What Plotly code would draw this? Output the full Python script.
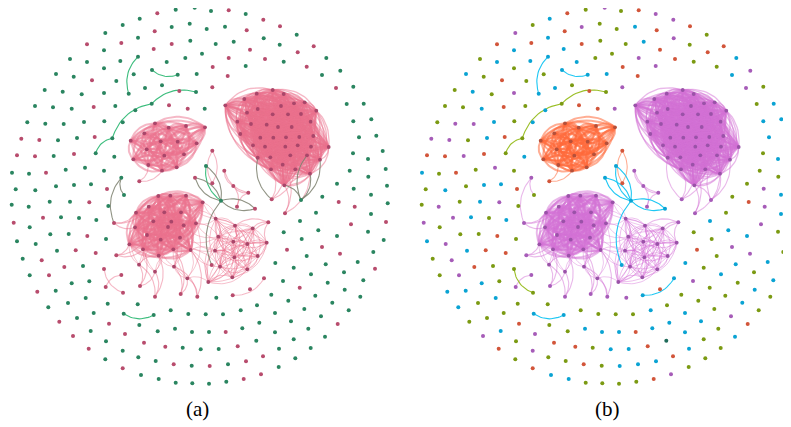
import numpy as np
import plotly.graph_objects as go

# all positions in pixels; panel (b) uses the same layout shifted right
PANEL_B_DX = 410
PAGE_MARGIN = 8  # default body margin of the html page

# ---- isolated / loosely linked nodes around the ring ----
per_x = [194.7, 175.7, 211, 228.7, 157.3, 245.7, 139.7, 263.3, 122.7, 189.7,
         171.7, 206.7, 225, 280, 154.7, 246.7, 105.3, 296.7, 138, 263.7,
         190.3, 233.7, 87, 121.3, 171.7, 215.7, 279.7, 313.7, 153.7, 250,
         104, 202, 297.7, 70, 138, 185.3, 228.7, 265, 326.3, 87,
         120.3, 166.7, 283.7, 212.7, 245.7, 306.7, 104, 152, 177.7, 340.3,
         56, 73.7, 133.7, 196.7, 227.7, 322, 92, 116.3, 162, 145,
         212.3, 336, 353.3, 44.7, 62.7, 81.7, 104, 128.7, 179.3, 196,
         35, 53, 71.7, 93.7, 115.3, 135.3, 151.7, 169, 187.7, 204.7,
         346.7, 363.7, 27.3, 45.3, 63.7, 84, 104.3, 122.7, 353.3, 371.3,
         21.3, 39.3, 58, 77, 94.7, 112.3, 359, 376.3, 17, 35,
         53.7, 74, 95.7, 114.3, 353, 368, 382.7, 12, 29, 46,
         65.7, 85, 104, 121.3, 349.7, 368.3, 385.7, 15.7, 35.3, 56,
         74, 91, 107, 124, 337, 353.7, 371, 387, 322.3, 11.7,
         28.7, 49.7, 70, 89.3, 108.3, 338.7, 354.7, 387.7, 13.7, 29.7,
         43, 61, 79, 96.3, 114, 17, 35.7, 50.3, 68.7, 87.3,
         106, 22.7, 41.7, 57, 75.7, 95.7, 116.3, 29.7, 49, 64.3,
         83, 104, 121.3, 37.3, 55.7, 71.7, 89.3, 105.7, 123, 48.3,
         68, 85.7, 107.7, 137.7, 59.3, 77, 93.7, 109, 123.7, 153.7,
         73, 90.7, 106, 125, 139.3, 88.7, 105.3, 122.7, 144, 157.7,
         170.7, 122.7, 138.3, 155.7, 141, 158.7, 173.7, 165.3, 175.7, 192.3,
         209, 226.3, 243.7, 261, 278.7, 295.3, 310.7, 325, 337.7, 348.7,
         360.3, 363.3, 375, 373.3, 383.7, 368, 386, 371, 351, 337,
         322, 340, 357.7, 316, 318.3, 301.7, 300, 283.7, 287, 306.7,
         325.7, 344, 275.3, 293.7, 311, 327.7, 344.7, 283, 299.7, 315.3,
         332.3, 271.3, 288.3, 304.3, 321, 257, 275, 291, 308.3, 240.7,
         259.3, 275, 293.7, 223, 242.3, 256.3, 279, 205.7, 225.7, 237.7,
         263, 188.3, 209, 218.7, 246, 175, 192, 182.7, 200.7, 228,
         191.7, 209.7, 216.3, 232.7, 250, 264, 268.3]
per_y = [7.7, 9.7, 11, 10.3, 13.3, 14, 18.7, 19.7, 25, 23.7,
         27, 29, 26.7, 26.3, 31.3, 30.3, 33, 34.7, 37.7, 38.3,
         40.7, 41.7, 44.3, 43, 44, 44, 44.7, 46.3, 49, 49.7,
         50.3, 53.7, 52.3, 59, 56.7, 58, 58, 59, 58, 62,
         61, 62, 61.7, 67, 66, 66.7, 68.3, 70, 74.7, 70.7,
         74, 76.7, 74.3, 74, 76, 75, 80.3, 81, 85.3, 88,
         87.3, 88, 86.7, 90, 91.7, 94.3, 93, 93.7, 91, 92,
         106, 107.3, 108.7, 107, 106, 110.3, 103.7, 105.3, 108.7, 108.7,
         104, 103.7, 122.3, 123.7, 124, 122, 121.3, 122.3, 121.3, 119.3,
         138.7, 140, 140.3, 138, 137, 138.3, 137.3, 135.7, 155.3, 156.3,
         156, 154, 153.3, 156.7, 153.3, 159, 151, 172.7, 173.7, 172.7,
         169.7, 167.7, 170.7, 177.7, 170.7, 176.7, 169, 189.3, 190.3, 186.3,
         185, 184.3, 189, 195, 183.7, 188.7, 194.7, 185.7, 196.7, 204.7,
         206.7, 201.7, 201.7, 202.3, 206, 202, 206.7, 203.3, 222.7, 227.3,
         217.7, 217.3, 218, 220, 223, 241.3, 244, 234.3, 234, 236,
         239, 258.7, 260.3, 250.7, 250.3, 253, 255.3, 275.3, 275.3, 267,
         266, 269, 275, 291.7, 290.7, 283.3, 281.3, 287, 292.7, 307.3,
         303, 298, 303.7, 304.3, 321.7, 318, 313, 323.7, 313.7, 315,
         336, 331, 341.3, 334, 325, 348.7, 359.3, 350.7, 342.7, 331.3,
         310.3, 368.3, 357.3, 361, 375, 379, 364.3, 346.7, 382.7, 383.3,
         383.7, 381.7, 379, 374.3, 367, 358.3, 348, 336.7, 324, 310.3,
         296.7, 280.3, 268.7, 252, 240, 231.7, 222, 214, 224.3, 236,
         247, 253.7, 262, 212.7, 230.3, 239, 221, 232.3, 249.7, 256,
         264.3, 272.3, 263, 267.7, 274.3, 282.7, 289.7, 281, 287.7, 295.7,
         302.7, 294.7, 300.7, 309, 316.3, 305.3, 313, 321.3, 328.7, 310.3,
         322.7, 332.3, 339.3, 314.3, 328.3, 340.7, 348.7, 314.3, 332, 346.3,
         356.3, 314, 332, 349, 361.3, 328.7, 332, 347.7, 349.3, 364.3,
         365.7, 366, 297.7, 295.3, 289.3, 278.3, 222.3]
# community of each ring node: panel (a) g = green, r = red
per_com_a = ("g g g r r g g r g g  g g g r r r g g g g  g g r r r g g r r r  g g r g g g r r g g "
             "g g g r g r g g g g  g g g g r g r g g g  r r g g g g g g r g  g g g r g g g r r g "
             "g g g g g g g g g g  r r g g r g g g r r  g r g g g g g g g r  g g g g g g g g g g "
             "g g r g g g g g g g  g g g r g r r g r g  r g g g r g g g g r  g g r g r r r g r r "
             "g r r r g g g r r g  g g g g r g g r g g  r g g r g r g g r g  g r g g g g r r g g "
             "g g r r g g g g r g  g g r g g g r g r g  r r g g g g g g r g  g g g g g g g g r g "
             "g g g g g g g g g g  g g g g g g g g r r  r g g g r g g g g g  g r g r r r r").split()
# panel (b) p = purple, o = olive, c = cyan, r = red, t = teal
per_com_b = ("p o o r r p c p o o  p o c r r r p o c p  o c r r r o o r c r  c o r o c o p r c c "
             "c c o r p o o c c p  c o o c r c r o o c  p p o o c o p c r o  o o c r o c o r r p "
             "o c o p p c o c c c  p p o c r o c c r r  p r o c o c c c o r  o p o p o o c o c o "
             "c c r o o p c o o o  p o c p o r p o p o  p c o c p c p o o r  o o p c r r p o p r "
             "o o p c c c o p o c  o c o o o o o r c c  p c o p o r o p r o  o r o o c c r r o o "
             "o o r p o o o c r o  o c r o c o p c p c  p p c o c o c o r o  c o c o c o c p o o "
             "c o o o p o c c o c  c c o o c t c o r r  r o c c c c c o c c  o c p c r c p").split()

# ---- small hub / bridge nodes in the middle ----
ext_x = [221, 206, 212.3, 212.3, 224.3, 195, 233.3, 248.3, 255, 237,
         211.7, 139.3, 180.7, 197.3, 155, 140, 271.7, 285, 301]
ext_y = [200.7, 166, 150.7, 183.3, 170.7, 177.7, 186, 192.7, 208.7, 206.7,
         265, 181.3, 294, 296.7, 296.7, 286, 199.3, 213.3, 200]
ext_com_a = "g g r r r r r r r r  r r r r r r r r g".split()
ext_com_b = "c c r r p c p p c p  c r p p p p p p p".split()

# ---- dense communities ----
ca_x = [155, 144.3, 130.7, 168.7, 186, 205, 160.7, 177.7, 196.7, 146.7, 164.3, 184, 133.3, 148.3, 162, 176.7]
ca_y = [123.3, 133.3, 140.7, 127.7, 126, 127.3, 141.3, 141.7, 143.3, 149.3, 155.7, 154.3, 159.3, 165, 170.7, 167.3]

cb_x = [244.3, 256.7, 272.7, 283.7, 225.3, 257.7, 281, 294, 304.7, 316.3,
        247, 272.7, 288, 301, 237.3, 251, 266.7, 278, 291.7, 310.7,
        240.3, 260.3, 273.3, 286, 299.3, 313.3, 253, 265, 285.3, 297.7,
        311, 328.7, 257.7, 270.3, 290.3, 307, 320, 282.7, 271, 295.3,
        310, 284.3]
cb_y = [99, 93.7, 90, 94, 105.3, 109, 106, 103.3, 102.3, 110.7,
        112.7, 114.3, 114.3, 114, 121.7, 124, 124.7, 127, 127, 121.7,
        134, 137.7, 137.7, 137.3, 137, 136, 145.3, 146.7, 146.7, 145.3,
        146.7, 147, 157.7, 157.3, 155.3, 155.3, 159.7, 164.7, 169.3, 169.3,
        173.7, 185.3]

cc_x = [158.3, 170.3, 186, 148.7, 164.3, 181, 136, 153.3, 171.3, 183.7,
        135, 168, 196, 147, 160.7, 180, 129.3, 143, 158.7, 173.3,
        190.7, 139, 155, 174, 187.3, 202.7]
cc_y = [196, 195.7, 195.7, 206.7, 212.3, 212.3, 212.7, 221.3, 221.7, 225.3,
        227.3, 227, 223.3, 235, 239.7, 237.7, 244.3, 249.3, 255.7, 249.3,
        250, 264.7, 271.7, 266.7, 278.3, 202.3]
cc_core = [0, 1, 2, 3, 4, 5, 6, 7, 8, 9, 10, 11, 12, 13, 14, 15, 16, 17, 18, 19, 20, 25]

cd_x = [215.7, 235, 252.7, 218.3, 233.3, 247.3, 266.7, 215, 234.3, 257.7, 220, 232.3, 247.3, 208.3]
cd_y = [218.7, 225.7, 228.3, 236.7, 241.7, 244, 242.7, 250.7, 257.3, 256, 266.7, 277.3, 269.3, 282]

# ---- sparse edges: (from, to, style in a, style in b) ----
sparse_edges = [
    ("p34", "p67", "gn", "cy"), ("p47", "p48", "gn", "cy"),
    ("p69", "p76", "gn", "ol"), ("p76", "p95", "gn", "ol"), ("p95", "p102", "gn", "ol"),
    ("p178", "p179", "gn", "cy"), ("p161", "p168", "pk", "ol"), ("p162", "p167", "pk", "pu"),
    ("p273", "p275", "pk", "cy"), ("p113", "p123", "gy", "pu"), ("p113", "p144", "gy", "pu"),
    ("p144", "C6", "pk", "pu"), ("p144", "C10", "pk", "pu"), ("p144", "C3", "pk", "pu"),
    ("p156", "C16", "pk", "pu"), ("p156", "C17", "pk", "pu"), ("p156", "C13", "pk", "pu"),
    ("p276", "D2", "pk", "pu"), ("p276", "D1", "pk", "pu"), ("p276", "D6", "pk", "pu"), ("p276", "D5", "pk", "pu"),
    ("x2", "x3", "pk", "or"), ("x3", "x2", "pk", "or"),
    ("x1", "x0", "gn", "cy"), ("x0", "x1", "gy", "cy"),
    ("x5", "x0", "gy", "cy"), ("x0", "x5", "gy", "cy"),
    ("x0", "x8", "gy", "cy"), ("x8", "x0", "gy", "cy"), ("x0", "x10", "gy", "cy"),
    ("x4", "x6", "pk", "pu"), ("x6", "x7", "pk", "pu"), ("x4", "x7", "pk", "pu"),
    ("x7", "x9", "pk", "pu"), ("x9", "x6", "pk", "pu"),
    ("x11", "A13", "pk", "or"), ("x11", "A14", "pk", "or"),
    ("x12", "C23", "pk", "pu"), ("x12", "C24", "pk", "pu"), ("x12", "C19", "pk", "pu"),
    ("x13", "C24", "pk", "pu"), ("x13", "C20", "pk", "pu"), ("x13", "C23", "pk", "pu"),
    ("x14", "C22", "pk", "pu"), ("x14", "C21", "pk", "pu"), ("x14", "C18", "pk", "pu"),
    ("x15", "C21", "pk", "pu"), ("x15", "C17", "pk", "pu"), ("x15", "C22", "pk", "pu"),
    ("x16", "B38", "pk", "pu"), ("x16", "B39", "pk", "pu"), ("x16", "B37", "pk", "pu"),
    ("x17", "B41", "pk", "pu"), ("x17", "B40", "pk", "pu"), ("x17", "B37", "pk", "pu"),
    ("x18", "B40", "gy", "pu"), ("x18", "B36", "gy", "pu"), ("x18", "B41", "gy", "pu"),
    ("B35", "x18", "gy", "pu"), ("B32", "x16", "gy", "pu"),
]
# lower part of community C is only loosely tied to its core
cc_low_edges = [(21, 16), (21, 17), (21, 13), (21, 18), (21, 10), (21, 14),
                (22, 17), (22, 18), (22, 14), (22, 19), (22, 13),
                (23, 18), (23, 19), (23, 15), (23, 20), (23, 14), (23, 11),
                (24, 19), (24, 20), (24, 15), (24, 23), (24, 12)]
# links between communities C and D
cd_cross = [(2, 0), (5, 0), (12, 0), (12, 3), (9, 3), (15, 7), (20, 7), (20, 10),
            (25, 0), (25, 1), (12, 4), (19, 10), (24, 13), (20, 13), (15, 3), (9, 7)]

EDGE_COL = {'pk': 'rgba(236,114,142,0.5)', 'gn': 'rgba(50,185,118,0.95)',
            'gy': 'rgba(125,128,110,0.85)', 'pu': 'rgba(212,114,214,0.5)',
            'or': 'rgba(255,106,58,0.55)', 'cy': 'rgba(18,196,242,0.95)',
            'ol': 'rgba(150,188,28,0.95)'}
NODE_COL_A = {'g': '#2a8560', 'r': '#b84c6d'}
NODE_COL_B = {'p': '#a65cb8', 'o': '#7b9a12', 'c': '#0aa3d3', 'r': '#d2553a', 't': '#1f6b5a'}

groups = {'p': (per_x, per_y), 'x': (ext_x, ext_y), 'A': (ca_x, ca_y),
          'B': (cb_x, cb_y), 'C': (cc_x, cc_y), 'D': (cd_x, cd_y)}


def pos(key):
    xs, ys = groups[key[0]]
    i = int(key[1:])
    return xs[i], ys[i]


def arc(p, q, k=0.3, n=18):
    t = np.linspace(0, 1, n)
    (x0, y0), (x1, y1) = p, q
    cx = (x0 + x1) / 2 - k * (y1 - y0)
    cy = (y0 + y1) / 2 + k * (x1 - x0)
    bx = (1 - t) ** 2 * x0 + 2 * (1 - t) * t * cx + t ** 2 * x1
    by = (1 - t) ** 2 * y0 + 2 * (1 - t) * t * cy + t ** 2 * y1
    return list(bx) + [None], list(by) + [None]


def add_edges(fig, pairs, color, dx, width=0.8, k=0.3, alternate=False):
    xs, ys = [], []
    for p, q in pairs:
        kk = -k if (alternate and (int(p[1:]) + int(q[1:])) % 2) else k
        ax, ay = arc(pos(p), pos(q), kk)
        xs += [v + dx if v is not None else None for v in ax]
        ys += ay
    fig.add_trace(go.Scatter(x=xs, y=ys, mode='lines', hoverinfo='skip',
                             line=dict(color=color, width=width)))


def clique_edges(fig, g, members, color, dx, width):
    # one trace per source node so that overlapping arcs build up colour
    for a in members:
        pairs = [(g + str(a), g + str(b)) for b in members if b > a]
        if pairs:
            add_edges(fig, pairs, color, dx, width, k=0.34, alternate=True)


def add_nodes(fig, xs, ys, colors, dx, size=4):
    fig.add_trace(go.Scatter(x=[v + dx for v in xs], y=ys, mode='markers', hoverinfo='skip',
                             marker=dict(size=size, color=colors, line=dict(width=0))))


fig = go.Figure()

for panel, dx in (('a', 0), ('b', PANEL_B_DX)):
    base = 'pk' if panel == 'a' else 'pu'
    a_col = 'pk' if panel == 'a' else 'or'
    clique_edges(fig, 'A', list(range(len(ca_x))), EDGE_COL[a_col], dx, 2.0)
    clique_edges(fig, 'B', list(range(len(cb_x))), EDGE_COL[base], dx, 1.3)
    clique_edges(fig, 'C', cc_core, EDGE_COL[base], dx, 1.9)
    clique_edges(fig, 'D', list(range(len(cd_x))), EDGE_COL[base], dx, 0.9)
    add_edges(fig, [('C%d' % a, 'C%d' % b) for a, b in cc_low_edges], EDGE_COL[base], dx, alternate=True)
    add_edges(fig, [('C%d' % a, 'D%d' % b) for a, b in cd_cross], EDGE_COL[base], dx, alternate=True)
    for style in EDGE_COL:
        pairs = [(e[0], e[1]) for e in sparse_edges if e[2 if panel == 'a' else 3] == style]
        if pairs:
            add_edges(fig, pairs, EDGE_COL[style], dx, width=1.1)

    if panel == 'a':
        pc = [NODE_COL_A[c] for c in per_com_a]
        ec = [NODE_COL_A[c] for c in ext_com_a]
        comm_cols = ['#a9466a'] * 4
    else:
        pc = [NODE_COL_B[c] for c in per_com_b]
        ec = [NODE_COL_B[c] for c in ext_com_b]
        comm_cols = ['#b5503a', '#9a52a8', '#9a52a8', '#9a52a8']
    add_nodes(fig, per_x, per_y, pc, dx)
    add_nodes(fig, ext_x, ext_y, ec, dx)
    for (xs, ys), col in zip([(ca_x, ca_y), (cb_x, cb_y), (cc_x, cc_y), (cd_x, cd_y)], comm_cols):
        add_nodes(fig, xs, ys, col, dx, size=3.8)

fig.add_annotation(x=197, y=409, text="(a)", showarrow=False,
                   font=dict(family="Liberation Serif", size=21, color="black"))
fig.add_annotation(x=197 + PANEL_B_DX, y=409, text="(b)", showarrow=False,
                   font=dict(family="Liberation Serif", size=21, color="black"))

# the page puts the plot 8px in from the corner, so the axes start at 8 to keep pixel units
fig.update_layout(width=791 - PAGE_MARGIN, height=427 - PAGE_MARGIN,
                  margin=dict(l=0, r=0, t=0, b=0),
                  paper_bgcolor='white', plot_bgcolor='white', showlegend=False,
                  xaxis=dict(range=[PAGE_MARGIN, 791], visible=False, fixedrange=True),
                  yaxis=dict(range=[427, PAGE_MARGIN], visible=False, fixedrange=True))
fig.write_html("out.html")
